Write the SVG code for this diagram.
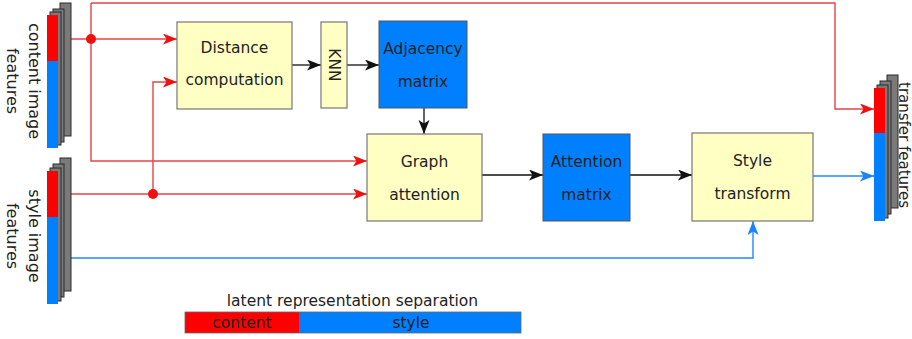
<svg xmlns="http://www.w3.org/2000/svg" width="912" height="339" viewBox="0 0 912 339">
<style>
text{font-family:"DejaVu Sans",Verdana,sans-serif;fill:#222}
.lbl{font-size:16px}
.nt{font-size:15.5px;text-anchor:middle}
.yel{fill:#ffffc4;stroke:#777;stroke-width:1.2}
.blu{fill:#0080ff;stroke:#555;stroke-width:1}
.gry{fill:#7a7a7a;stroke:#2a2a2a;stroke-width:1}
.red{stroke:#e44545;stroke-width:1.4;fill:none}
.bl{stroke:#2288ff;stroke-width:1.4;fill:none}
.k{stroke:#111;stroke-width:1.3;fill:none}
</style>
<defs>
<marker id="ak" markerUnits="userSpaceOnUse" markerWidth="15" markerHeight="12" refX="14" refY="5.5" orient="auto"><path d="M0,0 L14,5.5 L0,11 L3.5,5.5 z" fill="#111"/></marker>
<marker id="ar" markerUnits="userSpaceOnUse" markerWidth="15" markerHeight="12" refX="14" refY="5.5" orient="auto"><path d="M0,0 L14,5.5 L0,11 L3.5,5.5 z" fill="#f01010"/></marker>
<marker id="ab" markerUnits="userSpaceOnUse" markerWidth="15" markerHeight="12" refX="14" refY="5.5" orient="auto"><path d="M0,0 L14,5.5 L0,11 L3.5,5.5 z" fill="#1a84ff"/></marker>
</defs>

<g id="connectors">
<path class="red" d="M58,39 H177" marker-end="url(#ar)"/>
<path class="red" d="M91,3 V161 H367" marker-end="url(#ar)"/>
<path class="red" d="M91,3 H835 V109 H874" marker-end="url(#ar)"/>
<path class="red" d="M58,194 H367" marker-end="url(#ar)"/>
<path class="red" d="M153,194 V82 H177" marker-end="url(#ar)"/>
<circle cx="91" cy="39" r="5" fill="#f01010"/>
<circle cx="153" cy="194" r="5" fill="#f01010"/>
<path class="bl" d="M58,258 H753 V221" marker-end="url(#ab)"/>
<path class="bl" d="M813,176 H874" marker-end="url(#ab)"/>
<path class="k" d="M292,65 H321" marker-end="url(#ak)"/>
<path class="k" d="M347,65 H379" marker-end="url(#ak)"/>
<path class="k" d="M424,108 V134" marker-end="url(#ak)"/>
<path class="k" d="M482,175 H543" marker-end="url(#ak)"/>
<path class="k" d="M630,175 H692" marker-end="url(#ak)"/>
</g>

<g id="content-features">
<rect class="gry" x="60" y="3" width="11" height="133"/>
<rect class="gry" x="53" y="9" width="11" height="133"/>
<rect class="gry" x="50" y="12" width="11" height="133"/>
<rect x="47" y="15" width="11" height="46" fill="#ff0000"/>
<rect x="47" y="61" width="11" height="87" fill="#0080ff"/>
<text class="lbl" text-anchor="middle" transform="translate(28.5,81) rotate(90)">content image</text>
<text class="lbl" text-anchor="middle" transform="translate(7,81) rotate(90)">features</text>
</g>

<g id="style-features">
<rect class="gry" x="60" y="158" width="11" height="133"/>
<rect class="gry" x="53" y="164" width="11" height="133"/>
<rect class="gry" x="50" y="168" width="11" height="133"/>
<rect x="47" y="171" width="11" height="46" fill="#ff0000"/>
<rect x="47" y="217" width="11" height="87" fill="#0080ff"/>
<text class="lbl" text-anchor="middle" transform="translate(28.5,236) rotate(90)">style image</text>
<text class="lbl" text-anchor="middle" transform="translate(7,236) rotate(90)">features</text>
</g>

<g id="transfer-features">
<rect class="gry" x="887" y="75" width="11" height="133"/>
<rect class="gry" x="880" y="81" width="11" height="133"/>
<rect class="gry" x="877" y="85" width="11" height="133"/>
<rect x="874" y="88" width="11" height="45" fill="#ff0000"/>
<rect x="874" y="133" width="11" height="88" fill="#0080ff"/>
<text style="font-size:15px" transform="translate(898.5,82) rotate(90)">transfer features</text>
</g>

<g id="distance">
<rect class="yel" x="177" y="22" width="115" height="87"/>
<text class="nt" x="234.5" y="53">Distance</text>
<text class="nt" x="234.5" y="85">computation</text>
</g>

<g id="knn">
<rect class="yel" x="321" y="22" width="26" height="86"/>
<text class="nt" transform="translate(329,65) rotate(90)">KNN</text>
</g>

<g id="adjacency">
<rect class="blu" x="379" y="21" width="88" height="87"/>
<text class="nt" x="423" y="54">Adjacency</text>
<text class="nt" x="423" y="87">matrix</text>
</g>

<g id="graph-attention">
<rect class="yel" x="367" y="134" width="115" height="87"/>
<text class="nt" x="424.5" y="167">Graph</text>
<text class="nt" x="424.5" y="200">attention</text>
</g>

<g id="attention-matrix">
<rect class="blu" x="543" y="134" width="87" height="87"/>
<text class="nt" x="586.5" y="167">Attention</text>
<text class="nt" x="586.5" y="200">matrix</text>
</g>

<g id="style-transform">
<rect class="yel" x="692" y="133" width="121" height="88"/>
<text class="nt" x="752.5" y="166">Style</text>
<text class="nt" x="752.5" y="199">transform</text>
</g>

<g id="legend">
<text class="nt" x="352.5" y="306">latent representation separation</text>
<rect x="185" y="312" width="114" height="21" fill="#ff0000"/>
<rect x="299" y="312" width="222" height="21" fill="#0080ff"/>
<rect x="185" y="312" width="336" height="21" fill="none" stroke="#666" stroke-width="0.8"/>
<text class="nt" x="242" y="328">content</text>
<text class="nt" x="411" y="328">style</text>
</g>
</svg>
